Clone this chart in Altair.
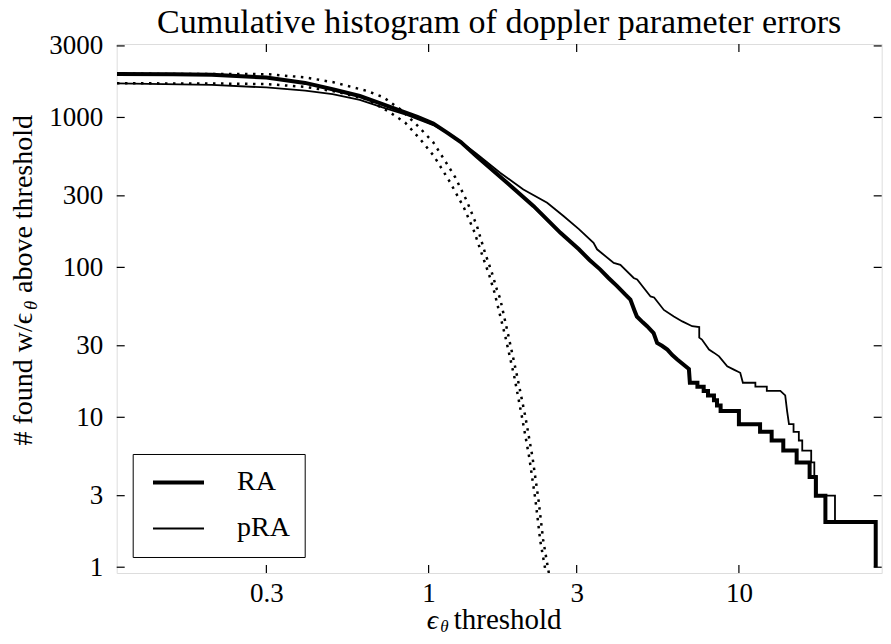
import altair as alt
import pandas as pd

# ---- data ----
ra_x = [0.099, 0.15, 0.2, 0.3, 0.4, 0.49, 0.6, 0.71, 0.81, 0.92, 1.035, 1.15, 1.27, 1.43, 1.505,
        1.79, 2.18, 2.66, 3.05, 3.3, 3.57, 3.8, 4.05, 4.3, 4.47, 4.6, 4.69, 4.9, 5.06, 5.31, 5.45,
        5.65, 5.88, 6.1, 6.33, 6.73, 6.9, 6.95, 7.35, 7.35, 7.7, 7.7, 7.95, 7.95, 8.31, 8.31, 8.5,
        8.5, 8.73, 8.73, 10.0, 10.0, 11.7, 11.7, 12.75, 12.75, 13.9, 13.9, 15.35, 15.35, 16.9, 16.9,
        17.7, 17.7, 19.0, 19.0, 27.6, 27.6]
ra_y = [1950, 1945, 1925, 1846, 1700, 1542, 1390, 1225, 1110, 1010, 910, 790, 685, 548, 500,
        367, 256, 170, 132, 112, 97, 85, 75, 66, 61, 52, 47, 43, 40.5, 36.5, 31.3,
        30, 28.3, 26, 24.3, 21.9, 21, 17, 17, 16, 16, 15, 15, 14, 14, 13, 13,
        12, 12, 11, 11, 9, 9, 8, 8, 7, 7, 6, 6, 5, 5, 4,
        4, 3, 3, 2, 2, 1]

pra_x = [0.099, 0.2, 0.3, 0.4, 0.49, 0.6, 0.71, 0.85, 1.035, 1.15, 1.27, 1.43, 1.70, 2.02, 2.41,
         2.72, 3.05, 3.40, 3.49, 3.95, 4.15, 4.58, 4.70, 5.19, 5.33, 5.73, 6.17, 6.57, 7.07, 7.45,
         7.45, 7.6, 8.01, 8.3, 8.63, 9.17, 9.63, 10.1, 10.3, 11.3, 11.3, 12.3, 12.3, 13.6, 14.1,
         14.3, 14.5, 15.0, 15.0, 15.6, 15.6, 16.0, 16.0, 17.1, 17.1, 17.5, 17.5, 17.8, 17.8, 20.4,
         20.4, 27.6, 27.6]
pra_y = [1686, 1648, 1585, 1510, 1429, 1310, 1169, 1040, 890, 790, 690, 570, 428, 331, 270,
         220, 180, 146, 132, 107, 104, 85, 83, 64, 63, 52, 47, 43.6, 40.5, 40,
         34, 33, 28.3, 27, 25.5, 21.9, 20.8, 19.8, 17, 17, 16, 16, 15, 15, 14,
         11, 9, 9, 8, 8, 7, 7, 6, 6, 5, 5, 4, 4, 3, 3,
         2, 2, 1]

rag_x = [0.099, 0.2, 0.3, 0.4, 0.493, 0.633, 0.714, 0.81, 0.917, 1.035, 1.175, 1.22, 1.33, 1.43,
         1.52, 1.60, 1.66, 1.70, 1.81, 1.93, 2.05, 2.16, 2.26, 2.34, 2.43, 2.5]
rag_y = [1955, 1950, 1945, 1850, 1718, 1503, 1365, 1135, 890, 683, 451, 397, 275, 190,
         125, 92, 71, 62, 34.6, 18.7, 10.1, 5.46, 2.81, 1.52, 0.96, 0.7]

prag_x = [0.099, 0.2, 0.3, 0.4, 0.5, 0.633, 0.752, 0.84, 0.94, 1.04, 1.175, 1.3, 1.4, 1.49, 1.57,
          1.63, 1.77, 1.89, 2.0, 2.11, 2.21, 2.29, 2.38, 2.45]
prag_y = [1690, 1685, 1670, 1600, 1490, 1321, 1078, 925, 715, 553, 367, 250, 175, 120, 88,
          68, 34, 18.5, 10, 5.4, 2.8, 1.5, 0.95, 0.7]

x_ticks = [0.3, 1, 3, 10]
y_ticks = [1, 3, 10, 30, 100, 300, 1000, 3000]
series_names = ["RA", "pRA"]

FONT = "Liberation Serif"
W, H = 765, 529

solid = pd.concat([
    pd.DataFrame({"x": ra_x, "y": ra_y, "series": "RA", "i": range(len(ra_x))}),
    pd.DataFrame({"x": pra_x, "y": pra_y, "series": "pRA", "i": range(len(pra_x))}),
])
dotted = pd.concat([
    pd.DataFrame({"x": rag_x, "y": rag_y, "series": "RA", "i": range(len(rag_x))}),
    pd.DataFrame({"x": prag_x, "y": prag_y, "series": "pRA", "i": range(len(prag_x))}),
])

xs = alt.Scale(type="log", domain=[0.0988, 28.85], nice=False)
ys = alt.Scale(type="log", domain=[0.915, 3090], nice=False)
xax = alt.Axis(values=x_ticks, format="~g", ticks=False, domain=False, grid=False, title="",
               labelPadding=8, labelFontSize=27, labelFont=FONT, labelColor="black")
yax = alt.Axis(values=y_ticks, format="~g", ticks=False, domain=False, grid=False, title="",
               labelPadding=14, labelFontSize=27, labelFont=FONT, labelColor="black")

lines = alt.Chart(solid).mark_line(clip=True, color="black", strokeJoin="miter", strokeCap="butt").encode(
    x=alt.X("x:Q", scale=xs, axis=xax),
    y=alt.Y("y:Q", scale=ys, axis=yax),
    strokeWidth=alt.StrokeWidth("series:N", scale=alt.Scale(domain=series_names, range=[4, 1.8]),
                                legend=alt.Legend(title=None, orient="bottom-left", offset=16,
                                                  padding=14.5, strokeColor="black", fillColor="white",
                                                  symbolType="M-2.55,0H2.55", symbolSize=400,
                                                  symbolStrokeColor="black", symbolOffset=17.3,
                                                  labelOffset=44.5, labelFontSize=28, labelFont=FONT,
                                                  labelColor="black", rowPadding=18)),
    order=alt.Order("i:Q"),
)

dots = alt.Chart(dotted).mark_line(clip=True, color="black", strokeWidth=2.5,
                                   strokeDash=[2.5, 5.5]).encode(
    x=alt.X("x:Q", scale=xs, axis=xax),
    y=alt.Y("y:Q", scale=ys, axis=yax),
    detail="series:N",
    order=alt.Order("i:Q"),
)

xt = pd.DataFrame({"v": x_ticks})
yt = pd.DataFrame({"v": y_ticks})
tick_style = dict(color="black", strokeWidth=1.2)
xb = alt.Chart(xt).mark_rule(**tick_style).encode(x=alt.X("v:Q", scale=xs, axis=xax),
                                                   y=alt.value(H), y2=alt.value(H - 8))
xtop = alt.Chart(xt).mark_rule(**tick_style).encode(x=alt.X("v:Q", scale=xs, axis=xax),
                                                     y=alt.value(0), y2=alt.value(8))
yl = alt.Chart(yt).mark_rule(**tick_style).encode(y=alt.Y("v:Q", scale=ys, axis=yax),
                                                   x=alt.value(0), x2=alt.value(8))
yr = alt.Chart(yt).mark_rule(**tick_style).encode(y=alt.Y("v:Q", scale=ys, axis=yax),
                                                   x=alt.value(W - 8), x2=alt.value(W))

def txt(s, x, y, size=28, angle=0, align="left", style="normal"):
    return alt.Chart(pd.DataFrame({"t": [s]})).mark_text(
        font=FONT, fontSize=size, align=align, baseline="alphabetic", angle=angle,
        color="black", fontStyle=style).encode(text="t:N", x=alt.value(x), y=alt.value(y))

# x axis title: ϵθ threshold  (plot origin at page (116.7, 44))
xtitle = [
    txt("ϵ", 310, 585, style="italic"),
    txt("θ", 323.5, 588, size=17, style="italic"),
    txt("threshold", 337, 585, size=29),
]
# y axis title, rotated
ytitle = [
    txt("# found w/ϵ", 32 - 116.7, 313 - 44, angle=270, align="right"),
    txt("θ", 37 - 116.7, 310 - 44, size=19, angle=270, align="left", style="italic"),
    txt("above threshold", 32 - 116.7, 293 - 44, angle=270, align="left"),
]

chart = alt.layer(lines, dots, xb, xtop, yl, yr, *xtitle, *ytitle).properties(
    width=W, height=H,
    title=alt.TitleParams(text="Cumulative histogram of doppler parameter errors", font=FONT,
                          fontSize=34, fontWeight="normal", color="black", anchor="middle",
                          offset=-8),
    padding={"left": 108.7, "top": 36, "right": 1, "bottom": 63},
    autosize=alt.AutoSizeParams(type="none"),
).configure_view(stroke="black", strokeWidth=2).configure(background="white")

chart.save("out.html", embed_options={"renderer": "svg", "actions": False})
